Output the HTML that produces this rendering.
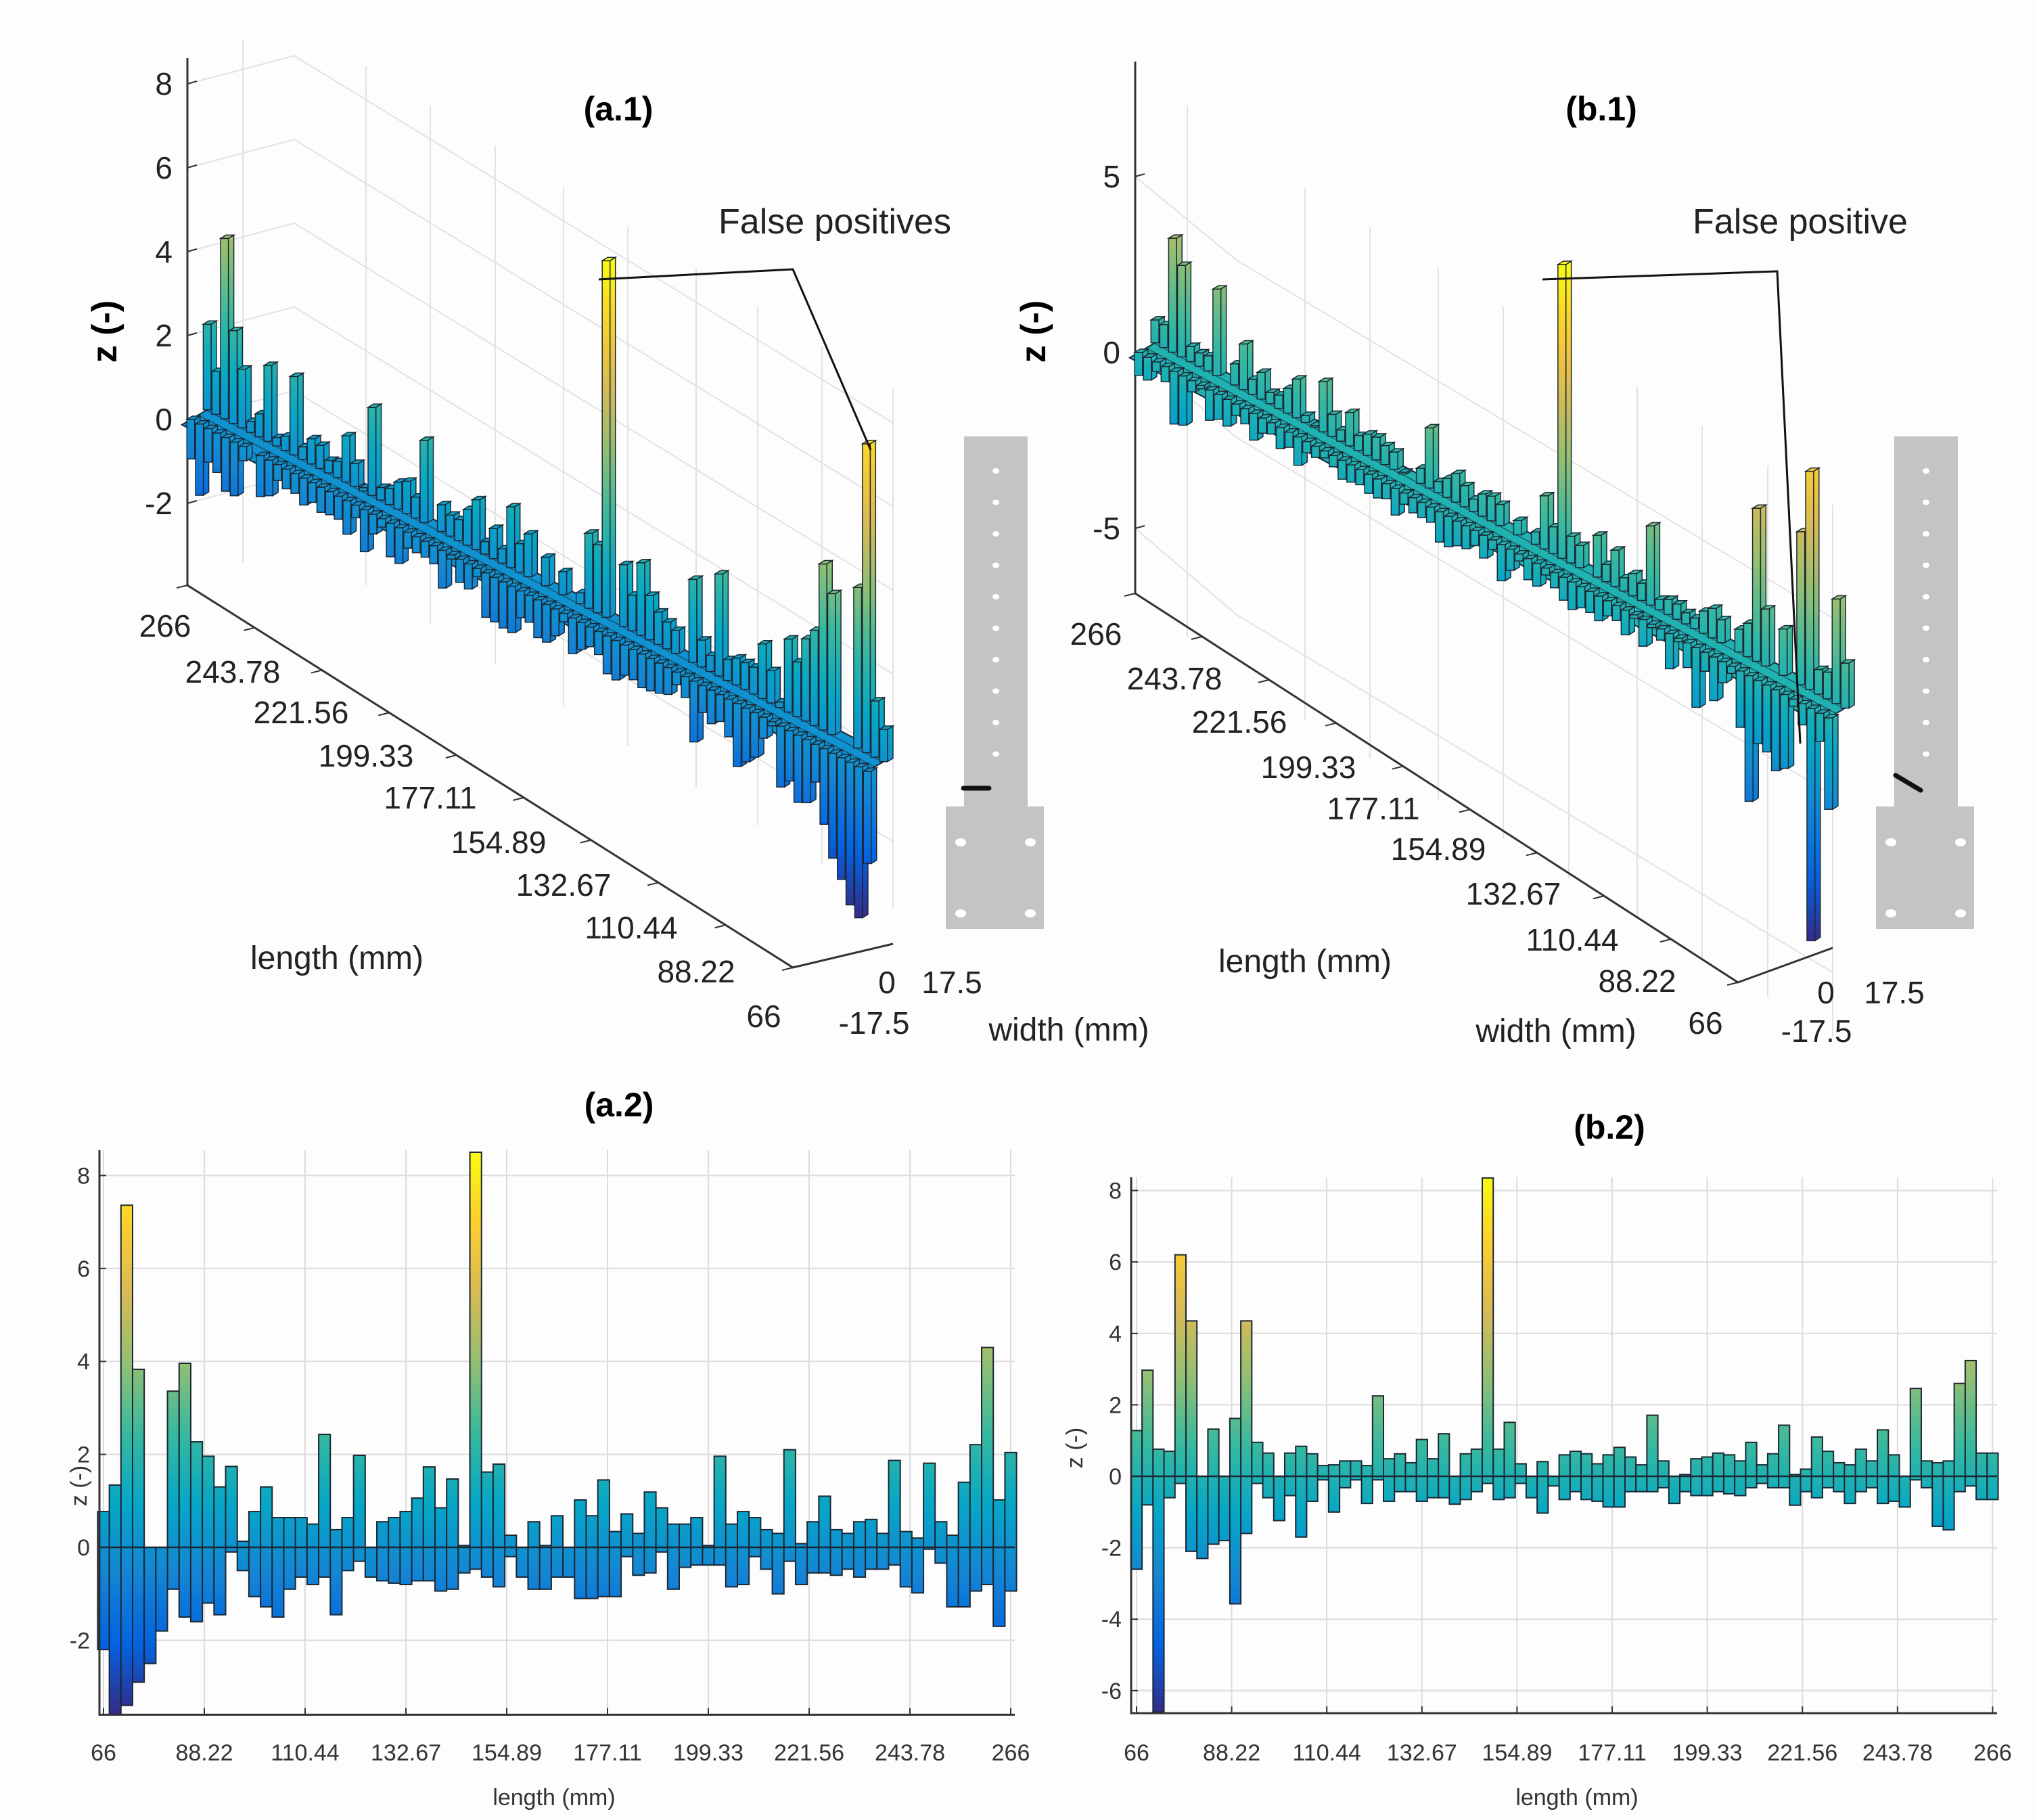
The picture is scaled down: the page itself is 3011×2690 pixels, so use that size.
<!DOCTYPE html>
<html><head><meta charset="utf-8"><style>
html,body{margin:0;padding:0;background:#fff;}
svg{display:block;font-family:"Liberation Sans",sans-serif;}
</style></head><body>
<svg id="fig" width="3011" height="2690" viewBox="0 0 3011 2690" xmlns="http://www.w3.org/2000/svg">
<rect x="0" y="0" width="3011" height="2690" fill="#fdfdfd"/>
<g id="layerA1"></g>
<g id="layerB1"></g>
<g id="layerA2"></g>
<g id="layerB2"></g>
<g id="static">
  <text x="914" y="178" font-size="50" font-weight="bold" text-anchor="middle">(a.1)</text>
  <text x="2367" y="178" font-size="50" font-weight="bold" text-anchor="middle">(b.1)</text>
  <text x="915" y="1650" font-size="50" font-weight="bold" text-anchor="middle">(a.2)</text>
  <text x="2379" y="1683" font-size="50" font-weight="bold" text-anchor="middle">(b.2)</text>
  <text x="1234" y="345" font-size="52" text-anchor="middle" fill="#222">False positives</text>
  <polyline points="885,413 1172,398 1287,665" fill="none" stroke="#111" stroke-width="3"/>
  <text x="2661" y="345" font-size="52" text-anchor="middle" fill="#222">False positive</text>
  <polyline points="2280,413 2627,401 2661,1099" fill="none" stroke="#111" stroke-width="3"/>
  <text transform="translate(172,490) rotate(-90)" font-size="52" font-weight="bold" text-anchor="middle">z (-)</text>
  <text transform="translate(1545,490) rotate(-90)" font-size="52" font-weight="bold" text-anchor="middle">z (-)</text>
  <text x="498" y="1432" font-size="48" text-anchor="middle" fill="#222">length (mm)</text>
  <text x="1929" y="1437" font-size="48" text-anchor="middle" fill="#222">length (mm)</text>
  <text x="1580" y="1538" font-size="48" text-anchor="middle" fill="#222">width (mm)</text>
  <text x="2300" y="1540" font-size="48" text-anchor="middle" fill="#222">width (mm)</text>
  <text x="1311" y="1468" font-size="46" text-anchor="middle" fill="#222">0</text>
  <text x="1407" y="1468" font-size="46" text-anchor="middle" fill="#222">17.5</text>
  <text x="1292" y="1528" font-size="46" text-anchor="middle" fill="#222">-17.5</text>
  <text x="2699" y="1483" font-size="46" text-anchor="middle" fill="#222">0</text>
  <text x="2800" y="1483" font-size="46" text-anchor="middle" fill="#222">17.5</text>
  <text x="2685" y="1540" font-size="46" text-anchor="middle" fill="#222">-17.5</text>
  <text transform="translate(128,2196) rotate(-90)" font-size="34" text-anchor="middle" fill="#333">z (-)</text>
  <text transform="translate(1600,2140) rotate(-90)" font-size="34" text-anchor="middle" fill="#333">z (-)</text>
  <text x="819" y="2668" font-size="34" text-anchor="middle" fill="#333">length  (mm)</text>
  <text x="2331" y="2668" font-size="34" text-anchor="middle" fill="#333">length  (mm)</text>
</g>
<g id="plates"></g>
</svg>
<script>
const lengthTicks = ["66","88.22","110.44","132.67","154.89","177.11","199.33","221.56","243.78","266"];
const aTop = [0.77,1.34,7.36,3.83,0,0,3.36,3.96,2.27,1.96,1.3,1.74,0.13,0.77,1.3,0.64,0.64,0.64,0.5,2.43,0.38,0.64,1.98,0,0.55,0.64,0.77,1.06,1.73,0.85,1.47,0.04,8.5,1.62,1.79,0.26,0,
 0.55,0.04,0.68,0,1.02,0.68,1.45,0.34,0.72,0.3,1.19,0.85,0.5,0.5,0.64,0.04,1.96,0.5,0.77,0.64,0.38,0.3,2.1,0.08,0.55,1.1,0.38,0.3,0.55,0.6,0.3,1.87,0.34,0.2,1.81,0.55,0.26,1.4,2.21,4.3,1.02,2.04];
const aBot = [-2.2,-3.6,-3.4,-2.9,-2.5,-1.8,-0.9,-1.5,-1.6,-1.2,-1.45,-0.1,-0.5,-1.06,-1.28,-1.5,-0.9,-0.64,-0.8,-0.64,-1.45,-0.5,-0.3,-0.64,-0.72,-0.77,-0.8,-0.72,-0.72,-0.94,-0.9,-0.55,-0.47,-0.64,-0.85,-0.2,-0.64,
 -0.9,-0.9,-0.64,-0.64,-1.1,-1.1,-1.06,-1.06,-0.2,-0.6,-0.55,-0.1,-0.9,-0.43,-0.38,-0.38,-0.38,-0.85,-0.8,-0.2,-0.47,-1.0,-0.3,-0.8,-0.55,-0.55,-0.6,-0.47,-0.64,-0.47,-0.47,-0.38,-0.85,-0.98,-0.04,-0.34,-1.28,-1.28,-0.94,-0.8,-1.7,-0.94];
const bTop = [1.28,2.97,0.76,0.7,6.2,4.35,0,1.32,0,1.62,4.35,0.95,0.65,0,0.65,0.84,0.63,0.3,0.32,0.43,0.43,0.3,2.25,0.49,0.63,0.38,1.03,0.49,1.19,0,0.63,0.76,8.35,0.76,1.51,0.35,0,0.41,0,0.6,0.7,
 0.63,0.35,0.6,0.81,0.54,0.32,1.71,0.43,0,0.05,0.49,0.54,0.65,0.6,0.43,0.95,0.32,0.63,1.43,0.05,0.2,1.1,0.7,0.38,0.32,0.76,0.43,1.3,0.6,0,2.46,0.43,0.38,0.43,2.6,3.24,0.65,0.65];
const bBot = [-2.6,-0.8,-6.6,-0.6,-0.2,-2.1,-2.3,-1.9,-1.8,-3.57,-1.6,-0.2,-0.6,-1.24,-0.54,-1.7,-0.7,-0.1,-1.0,-0.32,-0.1,-0.76,-0.1,-0.7,-0.43,-0.43,-0.7,-0.6,-0.6,-0.78,-0.65,-0.43,-0.2,-0.65,-0.6,-0.2,-0.6,-1.03,-0.27,-0.65,-0.43,
 -0.65,-0.7,-0.86,-0.86,-0.43,-0.43,-0.43,-0.32,-0.76,-0.43,-0.54,-0.54,-0.43,-0.49,-0.54,-0.32,-0.2,-0.32,-0.32,-0.81,-0.43,-0.6,-0.32,-0.43,-0.76,-0.43,-0.32,-0.76,-0.7,-0.86,-0.1,-0.32,-1.4,-1.5,-0.43,-0.27,-0.65,-0.65];
const aZTicks = [8,6,4,2,0,-2];
const bZTicks2d = [8,6,4,2,0,-2,-4,-6];
const bZTicks3d = [5,0,-5];

const NS = "http://www.w3.org/2000/svg";
function mk(tag, attrs, parent){ const e=document.createElementNS(NS,tag); for(const k in attrs) e.setAttribute(k,attrs[k]); parent.appendChild(e); return e; }
const PAR = [[0,"#352a87"],[0.125,"#0363e1"],[0.25,"#1485d4"],[0.375,"#06a7c6"],[0.5,"#38b99e"],[0.625,"#92bf73"],[0.75,"#d9ba56"],[0.875,"#fcce2e"],[1,"#f9fb0e"]];
function hex(h){return [parseInt(h.substr(1,2),16),parseInt(h.substr(3,2),16),parseInt(h.substr(5,2),16)];}
function parula(f){ f=Math.max(0,Math.min(1,f)); for(let i=0;i<PAR.length-1;i++){ if(f<=PAR[i+1][0]){ const t=(f-PAR[i][0])/(PAR[i+1][0]-PAR[i][0]); const a=hex(PAR[i][1]),b=hex(PAR[i+1][1]); return "rgb("+a.map((v,j)=>Math.round(v+(b[j]-v)*t)).join(",")+")"; } } return PAR[PAR.length-1][1]; }
const defs = mk("defs",{},document.getElementById("fig"));
let gid=0;
function grad(y1,y2,zmin,zmax,ztop,zbot){
  const id="g"+(gid++); const g=mk("linearGradient",{id:id,gradientUnits:"userSpaceOnUse",x1:0,x2:0,y1:y1,y2:y2},defs);
  for(let i=0;i<=8;i++){ const t=i/8; const z=ztop+(zbot-ztop)*t; mk("stop",{offset:t,"stop-color":parula((z-zmin)/(zmax-zmin))},g); }
  return id;
}

function panel2d(layerId, top, bot, cfg, zTicks, pfx){
  const L = document.getElementById(layerId);
  const xs = v => cfg.x66 + (v-66)*cfg.pxmm;
  const ys = z => cfg.y0 - z*cfg.pz;
  const yTop = cfg.yTopPx, yBot = ys(cfg.zmin);
  lengthTicks.forEach((t,i)=>{ const x=xs(parseFloat(t));
    const gl=mk("line",{x1:x,x2:x,y1:yTop,y2:yBot,stroke:"#dcdcdc","stroke-width":2},L);
    
    
    const tk=mk("line",{x1:x,x2:x,y1:yBot,y2:yBot-10,stroke:"#333","stroke-width":2},L);
    
    
    const tx=mk("text",{x:x,y:cfg.labelY,"font-size":34,"text-anchor":"middle",fill:"#333"},L); tx.textContent=t;
    
    
  });
  zTicks.forEach(z=>{ const y=ys(z);
    const gl=mk("line",{x1:cfg.axX,x2:cfg.xRight,y1:y,y2:y,stroke:"#dcdcdc","stroke-width":2},L);
    
    
    const tk=mk("line",{x1:cfg.axX,x2:cfg.axX+10,y1:y,y2:y,stroke:"#333","stroke-width":2},L);
    
    
    const tx=mk("text",{x:cfg.axX-14,y:y+12,"font-size":34,"text-anchor":"end",fill:"#333"},L); tx.textContent=z;
    
    
  });
  const gidv = grad(ys(cfg.zmax), ys(cfg.zmin), cfg.zmin, cfg.zmax, cfg.zmax, cfg.zmin);
  const n = top.length, step = 200/(n-1), w = step*cfg.pxmm;
  for(let i=0;i<n;i++){
    const c = xs(66+i*step);
    const y1 = ys(top[i]), y2 = ys(bot[i]);
    const r = mk("rect",{x:c-w/2,y:y1,width:w,height:Math.max(1,y2-y1),fill:"url(#"+gidv+")",stroke:"#1c2733","stroke-width":2},L);
    
    
  }
  const zl=mk("line",{x1:cfg.axX,x2:cfg.xRight,y1:ys(0),y2:ys(0),stroke:"#1c2733","stroke-width":2.5},L);
  
  
  const ax=mk("polyline",{points:cfg.axX+","+yTop+" "+cfg.axX+","+yBot+" "+cfg.xRight+","+yBot,fill:"none",stroke:"#333","stroke-width":3},L);
  
  
}
panel2d("layerA2", aTop, aBot, {x66:153, pxmm:149/22.222, y0:2287, pz:68.7, zmin:-3.6, zmax:8.5, yTopPx:1700, axX:147, xRight:1500, labelY:2602}, aZTicks, "a2");
panel2d("layerB2", bTop, bBot, {x66:1680, pxmm:140.6/22.222, y0:2182, pz:52.8, zmin:-6.63, zmax:8.4, yTopPx:1740, axX:1672, xRight:2952, labelY:2602}, bZTicks2d, "b2");

function panel3d(layerId, top, bot, c, zTicks, labelPos, pfx){
  const L = document.getElementById(layerId);
  const P = (len,z,w) => [c.x0 + (266-len)*c.dx + w*c.wx, c.y0 + (266-len)*c.dy - z*c.sz + w*c.wy];
  const zc = z => c.cTop + (c.zTop - z)/(c.zTop - c.zBot)*(c.cBot - c.cTop);
  const zf = z => c.y0 - z*c.sz;
  c.gridZ.forEach(z=>{
    const pl=mk("polyline",{points:c.axX+","+zf(z)+" "+c.cX+","+zc(z)+" "+c.wallEnd+","+(zc(z)+(c.wallEnd-c.cX)*c.slope),fill:"none",stroke:"#e2e2e2","stroke-width":2},L);
    
    
  });
  c.wallX.forEach(x=>{
    let yt, yb;
    if(x<c.cX){ const f=(x-c.axX)/(c.cX-c.axX); yt=c.axTop+(c.cTop-c.axTop)*f; yb=c.axBot+(c.cBot-c.axBot)*f; }
    else { yt=c.cTop+(x-c.cX)*c.slope; yb=c.cBot+(x-c.cX)*c.slope; }
    const ln=mk("line",{x1:x,x2:x,y1:yt,y2:yb,stroke:"#e2e2e2","stroke-width":2},L);
    
    
  });
  const ax=mk("polyline",{points:c.axX+","+c.axTop+" "+c.axX+","+c.axBot+" "+c.lenEnd[0]+","+c.lenEnd[1]+" "+c.widEnd[0]+","+c.widEnd[1],fill:"none",stroke:"#333","stroke-width":3},L);
  
  
  zTicks.forEach(z=>{ const y=zf(z);
    const tk=mk("line",{x1:c.axX,x2:c.axX+14,y1:y,y2:y-4,stroke:"#333","stroke-width":2},L);
    
    
    const tx=mk("text",{x:c.axX-22,y:y+16,"font-size":46,"text-anchor":"end",fill:"#222"},L); tx.textContent=z;
    
    
  });
  lengthTicks.forEach((t,i)=>{
    const f=(266-parseFloat(t))/200;
    const ax0=c.axX+(c.lenEnd[0]-c.axX)*f, ay0=c.axBot+(c.lenEnd[1]-c.axBot)*f;
    const tk=mk("line",{x1:ax0,y1:ay0,x2:ax0-16,y2:ay0+4,stroke:"#333","stroke-width":2},L);
    
    
    const lp=labelPos[9-i];
    const tx=mk("text",{x:lp[0],y:lp[1]+16,"font-size":46,"text-anchor":"middle",fill:"#222"},L); tx.textContent=t;
    
    
  });
  const pa=P(266,0,-0.6), pb=P(66,0,-0.6), pc=P(66,0,1.6), pd=P(266,0,1.6);
  const pl=mk("polygon",{points:[pa,pb,pc,pd].map(p=>p.join(",")).join(" "),fill:parula((0-c.zmin)/(c.zmax-c.zmin)),stroke:"#1c2733","stroke-width":2},L);
  
  
  for(let k=0;k<=4;k++){ const w=-0.6+k*0.55; const q1=P(266,0,w), q2=P(66,0,w);
    const ml=mk("line",{x1:q1[0],y1:q1[1],x2:q2[0],y2:q2[1],stroke:"#1c2733","stroke-width":1.5,opacity:0.6},L);
    
    
  }
  const n=top.length, step=200/(n-1), bw=step*c.dx*0.9;
  function bar(len, z1, z2, w){
    if(Math.abs(z1-z2)<0.05) return;
    const pt=P(len,z1,w), pb2=P(len,z2,w);
    const gg=grad(pt[1],pb2[1],c.zmin,c.zmax,z1,z2);
    const x=pt[0]-bw/2;
    const side=mk("polygon",{points:(x+bw)+","+pt[1]+" "+(x+bw+c.dep[0])+","+(pt[1]+c.dep[1])+" "+(x+bw+c.dep[0])+","+(pb2[1]+c.dep[1])+" "+(x+bw)+","+pb2[1],fill:"url(#"+gg+")",stroke:"#1c2733","stroke-width":1.5},L);
    
    
    const r=mk("rect",{x:x,y:pt[1],width:bw,height:pb2[1]-pt[1],fill:"url(#"+gg+")",stroke:"#1c2733","stroke-width":1.5},L);
    
    
    const cap=mk("polygon",{points:x+","+pt[1]+" "+(x+bw)+","+pt[1]+" "+(x+bw+c.dep[0])+","+(pt[1]+c.dep[1])+" "+(x+c.dep[0])+","+(pt[1]+c.dep[1]),fill:parula((z1-c.zmin)/(c.zmax-c.zmin)),stroke:"#1c2733","stroke-width":1.5},L);
    
    
  }
  for(let i=n-1;i>=0;i--){
    const len=66+i*step;
    bar(len, top[i], 0, 1.1);
    bar(len, 0, bot[i], 0);
  }
}
panel3d("layerA1", aTop, aBot, {x0:282,y0:620,dx:5.0,dy:2.6,sz:62,wx:22,wy:-13,dep:[8,-5],zmin:-3.6,zmax:8.5,
  axX:277,axTop:86,axBot:865,lenEnd:[1172,1430],widEnd:[1320,1395],cX:435,cTop:33,cBot:800,zTop:8.8,zBot:-3.6,slope:0.613,wallEnd:1320,
  gridZ:[8,6,4,2,0,-2],wallX:[359,541,636,732,833,928,1029,1120,1215,1320]}, aZTicks,
  [[244,925],[344,993],[445,1053],[541,1117],[636,1179],[737,1245],[833,1308],[933,1371],[1029,1436],[1129,1502]], "a1");
panel3d("layerB1", bTop, bBot, {x0:1683,y0:521,dx:5.1,dy:2.7,sz:52,wx:22,wy:-13,dep:[8,-5],zmin:-6.63,zmax:8.4,
  axX:1678,axTop:91,axBot:877,lenEnd:[2569,1452],widEnd:[2709,1401],cX:1828,cTop:217,cBot:1003,zTop:8.2,zBot:-6.8,slope:0.6,wallEnd:2709,
  gridZ:[5,0,-5],wallX:[1755,1929,2025,2126,2222,2319,2420,2516,2613,2709]}, bZTicks3d,
  [[1620,937],[1736,1003],[1832,1067],[1934,1134],[2030,1195],[2126,1255],[2237,1321],[2324,1389],[2420,1450],[2521,1512]], "b1");

function plate(ox, mark, name){
  const G=document.getElementById("plates");
  const g=mk("g",{transform:"translate("+ox+",0)"},G);
  
  
  mk("path",{d:"M1425 645 H1519 V1192 H1543 V1373 H1398 V1192 H1425 Z",fill:"#c4c4c4"},g);
  for(let k=0;k<10;k++) mk("ellipse",{cx:1472,cy:696+k*46.5,rx:5,ry:4,fill:"#fff"},g);
  [[1420,1245],[1523,1245],[1420,1350],[1523,1350]].forEach(p=>mk("ellipse",{cx:p[0],cy:p[1],rx:8,ry:6,fill:"#fff"},g));
  mk("line",{x1:mark[0],y1:mark[1],x2:mark[2],y2:mark[3],stroke:"#111","stroke-width":7,"stroke-linecap":"round"},g);
}
plate(0,[1424,1165,1462,1165],"specimen-sketch-a");
plate(1375,[1427,1146,1464,1168],"specimen-sketch-b");
</script>
</body></html>
